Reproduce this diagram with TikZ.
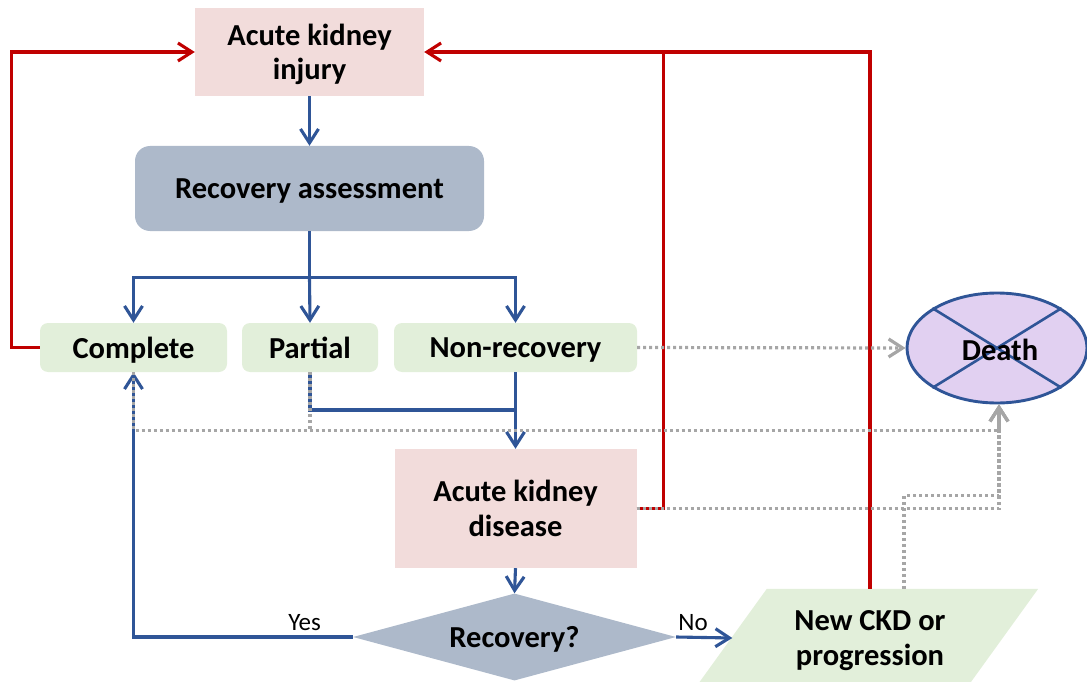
\documentclass[tikz,border=0pt]{standalone}
\usepackage{fontspec}
\setmainfont{Carlito}
\usetikzlibrary{arrows.meta,shapes.geometric,calc,backgrounds}

\definecolor{akipink}{HTML}{F2DCDB}
\definecolor{assessgray}{HTML}{ADB9CA}
\definecolor{okgreen}{HTML}{E2EFDA}
\definecolor{deathviolet}{HTML}{E1D0F1}
\definecolor{flowblue}{HTML}{2F5597}
\definecolor{loopred}{HTML}{C00000}
\definecolor{dotgray}{HTML}{A6A6A6}

\tikzset{
  barb/.tip={Straight Barb[length=14pt,width=18pt]},
  lbl/.style={font=\bfseries\fontsize{30.5}{34.5}\selectfont, align=center, text=black, inner sep=0pt, text depth=0pt},
  small/.style={font=\fontsize{25}{30}\selectfont, text=black, inner sep=5pt},
  pinkbox/.style={lbl, rectangle, fill=akipink},
  greenbox/.style={lbl, rectangle, rounded corners=8pt, fill=okgreen, minimum height=49pt},
  flow/.style={draw=flowblue, line width=3.1pt},
  flowarrow/.style={flow, -barb},
  loop/.style={draw=loopred, line width=3.1pt},
  looparrow/.style={loop, -barb},
  fatal/.style={draw=dotgray, line width=3.2pt, dash pattern=on 3pt off 3pt},
  fatalarrow/.style={fatal, -{Straight Barb[length=14pt,width=18pt,line width=3.2pt,sep=0pt]}},
}

\begin{document}
\begin{tikzpicture}[x=1pt,y=-1pt]
  \useasboundingbox (0,0) rectangle (1087,682);

  % boxes
  \node[pinkbox, minimum width=229pt, minimum height=88pt] (aki) at (309.5,52) {Acute kidney\\injury};
  \node[lbl, rectangle, rounded corners=15pt, fill=assessgray, minimum width=349pt, minimum height=85pt] (ra) at (309.5,188.5) {Recovery assessment};
  \node[greenbox, minimum width=187pt] (comp) at (133.5,347.5) {Complete};
  \node[greenbox, minimum width=136pt] (part) at (310,347.5) {Partial};
  \node[greenbox, minimum width=243pt] (nonrec) at (515.5,347.5) {Non-recovery};
  \node[pinkbox, minimum width=242pt, minimum height=119pt] (akd) at (515.5,508.5) {Acute kidney\\disease};
  \node[lbl, diamond, fill=assessgray, minimum width=323pt, minimum height=87pt, aspect=3.7] (dia) at (514.5,637) {Recovery?};

  % outcome parallelogram: text node, slanted fill behind it
  \node[lbl, minimum width=271pt, minimum height=98pt] (ckd) at (870,638) {New CKD or\\progression};
  \begin{scope}[on background layer]
    \fill[okgreen] ($(ckd.north west)+(32.5,0)$) -- ($(ckd.north east)+(32.5,0)$)
                   -- ($(ckd.south east)+(-38.5,0)$) -- ($(ckd.south west)+(-38.5,0)$) -- cycle;
  \end{scope}

  % death outcome, crossed out
  \node[ellipse, draw=flowblue, line width=2.9pt, fill=deathviolet, minimum width=180pt, minimum height=110pt, inner sep=0pt] (death) at (997,348) {};
  \draw[flowblue, line width=2.6pt] (death.north west) -- (death.south east);
  \draw[flowblue, line width=2.6pt] (death.north east) -- (death.south west);
  \node[lbl] (deathtext) at ($(death.center)+(3,2)$) {Death};

  % loops back to acute kidney injury
  \draw[looparrow] (comp.west) -- ++(-28,0) |- (aki.west);
  \draw[looparrow] (akd.east) -- ++(27,0) |- (aki.east);
  \draw[loop] (ckd.north) |- ($(aki.east)+(240,0)$);

  % main flow
  \draw[flowarrow] (aki.south) -- (ra.north);
  \draw[flow] (ra.south) -- ++(0,46.5) coordinate (split);
  \draw[flowarrow] (split) -| (comp.north);
  \draw[flowarrow] (split) -- (part.north);
  \draw[flowarrow] (split) -| (nonrec.north);
  \coordinate (merge) at (515.5,410);
  \draw[flow] (part.south) |- (merge);
  \draw[flowarrow] (nonrec.south) -- (akd.north);
  \draw[flowarrow] (akd.south) -- (dia.north);
  \draw[flowarrow] (dia.west) -| node[small, above, pos=0.11] {Yes} (comp.south);
  \draw[flowarrow] (dia.east) -- node[small, above, pos=0.3] {No} ($(ckd.west)+(-2,0)$);

  % paths to death
  \coordinate (deathin) at ($(death.south)+(2,0)$);
  \draw[fatalarrow] (nonrec.east) -- (death.west);
  \draw[fatalarrow] (comp.south) -- ++(0,58) -| (deathin);
  \draw[fatal] (part.south) -- ++(0,58);
  \draw[fatalarrow] (akd.east) -| (deathin);
  \draw[fatalarrow] ($(ckd.north)+(34,0)$) -- ++(0,-93) -| (deathin);
\end{tikzpicture}
\end{document}
